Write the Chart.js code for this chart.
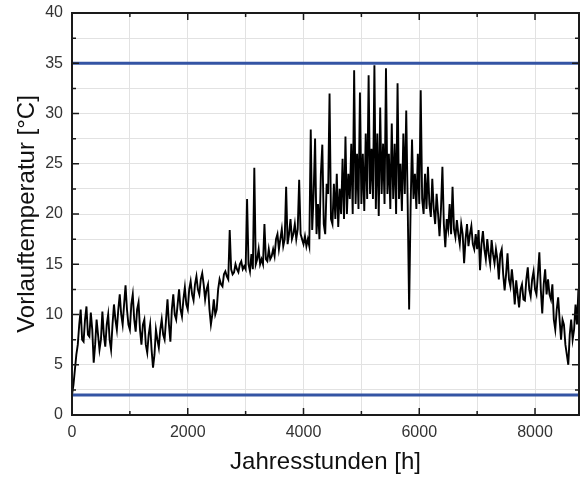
<!DOCTYPE html>
<html>
<head>
<meta charset="utf-8">
<script src="https://cdn.jsdelivr.net/npm/chart.js@4.4.1/dist/chart.umd.min.js"></script>
<style>
  html, body { margin: 0; padding: 0; background: #fff; }
  #chart { display: block; }
</style>
</head>
<body>
<canvas id="chart" width="585" height="479"></canvas>
<script>
// flow temperature over the year, every 25 h
const hourStep = 25;
const temps = [
  2.0, 3.0, 4.5, 6.0, 7.0, 9.0, 10.5, 7.5, 7.3, 9.5, 10.8, 8.0, 7.8, 10.2, 8.5, 5.2, 7.0, 9.5, 8.0, 6.5,
  7.5, 10.3, 8.0, 6.8, 9.0, 10.0, 7.5, 6.5, 9.0, 11.0, 9.5, 8.5, 10.5, 12.0, 10.0, 9.0, 11.0, 12.9, 10.5, 9.0,
  8.5, 11.0, 12.0, 9.5, 8.3, 10.5, 11.2, 8.5, 7.0, 9.0, 9.5, 7.0, 6.2, 8.0, 9.0, 6.5, 4.7, 6.0, 8.5, 7.5,
  6.7, 8.5, 9.5, 8.0, 7.5, 9.5, 11.5, 9.0, 7.3, 10.5, 12.0, 10.0, 9.5, 11.0, 12.5, 10.5, 9.8, 11.5, 12.7, 11.0,
  10.5, 12.5, 13.3, 12.0, 11.4, 13.0, 13.8, 12.5, 12.0, 13.5, 14.1, 13.0, 11.5, 12.5, 13.0, 10.5, 9.0, 10.0, 11.5, 10.0,
  10.5, 12.5, 13.5, 13.0, 12.8, 14.0, 14.3, 13.8, 13.5, 18.4, 14.5, 14.0, 14.2, 15.0, 14.5, 14.2, 15.0, 15.3, 14.5, 14.8,
  14.5, 21.5, 15.0, 14.3, 16.0, 14.5, 24.6, 15.0, 15.5, 16.5, 15.0, 15.5, 15.0, 19.0, 15.5, 15.3, 16.5, 15.5, 15.8, 16.5,
  15.8, 17.5, 18.0, 16.5, 17.5, 18.5, 16.8, 17.5, 22.7, 17.0, 18.0, 19.5, 17.5, 18.0, 19.0, 17.5, 18.5, 23.4, 18.0, 17.5,
  17.0, 17.8, 16.8, 17.5, 16.8, 28.4, 18.4, 22.0, 27.5, 18.0, 21.0, 17.5, 24.0, 26.9, 19.0, 18.0, 23.0, 22.0, 32.0, 19.5,
  19.0, 23.0, 19.5, 24.0, 18.7, 22.5, 20.0, 25.5, 19.5, 27.7, 20.0, 24.0, 21.5, 27.0, 20.0, 34.3, 21.0, 26.0, 20.5, 32.1,
  21.0, 26.0, 20.3, 28.0, 21.5, 33.8, 22.0, 26.5, 21.5, 34.8, 20.5, 28.0, 19.8, 30.6, 22.0, 27.0, 21.0, 34.5, 22.0, 26.0,
  20.5, 29.0, 21.5, 27.0, 20.0, 33.0, 21.5, 25.0, 20.3, 28.0, 22.0, 30.3, 21.0, 10.5, 20.5, 27.4, 21.5, 24.0, 20.5, 26.0,
  21.0, 32.3, 21.5, 20.0, 24.0, 20.5, 24.7, 21.0, 19.7, 23.5, 20.5, 19.0, 22.0, 20.0, 17.8, 20.5, 24.7, 19.0, 16.7, 19.5,
  18.5, 21.0, 18.0, 22.7, 18.5, 17.7, 19.4, 18.0, 17.0, 19.0, 18.0, 15.1, 17.5, 19.0, 16.8, 18.0, 18.8, 17.0, 16.5, 18.0,
  16.5, 18.4, 14.4, 17.0, 18.3, 16.5, 15.5, 17.5, 16.0, 15.0, 17.4, 16.0, 15.1, 16.5, 15.5, 13.5, 16.0, 16.5, 14.0, 12.4,
  14.0, 16.1, 13.5, 12.8, 14.5, 13.0, 11.0, 13.4, 12.0, 10.7, 12.5, 13.0, 11.5, 11.4, 13.5, 14.7, 12.5, 11.8, 13.5, 14.3,
  12.5, 12.0, 14.0, 16.2, 12.5, 10.1, 13.0, 14.5, 12.0, 13.5, 12.0, 11.5, 13.0, 9.5, 8.5, 10.5, 11.7, 9.5, 7.5, 9.5,
  9.0, 7.0, 6.0, 5.0, 8.0, 9.5, 7.5, 8.5, 11.0, 9.0, 12.5
];

// limits (blue lines)
const maxTemp = 35;
const minTemp = 2;
const yearHours = 8760;

// x ticks every 1000 h, labelled every 2000 h
const xTicks = [0, 1000, 2000, 3000, 4000, 5000, 6000, 7000, 8000];
const xLabelStep = 2000;
const yLabelStep = 5;

const tempPoints = temps.map((t, i) => ({ x: i * hourStep, y: t }));

const isMajor = (v, step) => Math.abs(v / step - Math.round(v / step)) < 1e-6;

// inward ticks + box frame, like the original plot
const framePlugin = {
  id: 'frame',
  afterDraw(chart) {
    const ctx = chart.ctx;
    const a = chart.chartArea;
    const xs = chart.scales.x;
    const ys = chart.scales.y;
    ctx.save();
    ctx.strokeStyle = '#1a1a1a';
    ctx.lineWidth = 1.5;
    xs.ticks.forEach(t => {
      const px = xs.getPixelForValue(t.value);
      const len = isMajor(t.value, xLabelStep) ? 7 : 4;
      ctx.beginPath();
      ctx.moveTo(px, a.bottom); ctx.lineTo(px, a.bottom - len);
      ctx.moveTo(px, a.top); ctx.lineTo(px, a.top + len);
      ctx.stroke();
    });
    ys.ticks.forEach(t => {
      const py = ys.getPixelForValue(t.value);
      const len = isMajor(t.value, yLabelStep) ? 7 : 4;
      ctx.beginPath();
      ctx.moveTo(a.left, py); ctx.lineTo(a.left + len, py);
      ctx.moveTo(a.right, py); ctx.lineTo(a.right - len, py);
      ctx.stroke();
    });
    ctx.lineWidth = 2;
    ctx.strokeRect(a.left, a.top, a.right - a.left, a.bottom - a.top);
    ctx.restore();
  }
};

new Chart(document.getElementById('chart').getContext('2d'), {
  type: 'line',
  data: {
    datasets: [
      {
        label: 'Vorlauftemperatur',
        data: tempPoints,
        borderColor: '#000000',
        borderWidth: 1.9,
        pointRadius: 0,
        tension: 0
      },
      {
        label: 'max',
        data: [{ x: 0, y: maxTemp }, { x: yearHours, y: maxTemp }],
        borderColor: '#3454a4',
        borderWidth: 3,
        pointRadius: 0
      },
      {
        label: 'min',
        data: [{ x: 0, y: minTemp }, { x: yearHours, y: minTemp }],
        borderColor: '#3454a4',
        borderWidth: 3,
        pointRadius: 0
      }
    ]
  },
  options: {
    responsive: false,
    animation: false,
    layout: { padding: { top: 13, right: 6, left: 0, bottom: 0 } },
    plugins: { legend: { display: false }, tooltip: { enabled: false } },
    scales: {
      x: {
        type: 'linear',
        min: 0,
        max: yearHours,
        afterBuildTicks(scale) { scale.ticks = xTicks.map(v => ({ value: v })); },
        afterFit(scale) {
          scale.height = 64;
          scale.paddingLeft = 0;
          scale.paddingRight = 0;
        },
        grid: { color: '#e2e2e2', lineWidth: 1, drawTicks: false },
        border: { display: false },
        ticks: {
          padding: 8,
          maxRotation: 0,
          autoSkip: false,
          color: '#333333',
          font: { family: 'Liberation Sans, Arial, sans-serif', size: 16 },
          callback: v => isMajor(v, xLabelStep) ? String(Math.round(v)) : ''
        },
        title: {
          display: true,
          text: 'Jahresstunden [h]',
          color: '#111111',
          padding: { top: 0, bottom: 2 },
          font: { family: 'Liberation Sans, Arial, sans-serif', size: 24, lineHeight: 1.2 }
        }
      },
      y: {
        min: 0,
        max: 40,
        afterFit(scale) {
          scale.width = 72;
          scale.paddingTop = 0;
          scale.paddingBottom = 0;
        },
        grid: { color: '#e2e2e2', lineWidth: 1, drawTicks: false },
        border: { display: false },
        ticks: {
          stepSize: 2.5,
          padding: 9,
          autoSkip: false,
          color: '#333333',
          font: { family: 'Liberation Sans, Arial, sans-serif', size: 16 },
          callback: v => isMajor(v, yLabelStep) ? String(Math.round(v)) : ''
        },
        title: {
          display: true,
          text: 'Vorlauftemperatur [°C]',
          color: '#111111',
          padding: { top: 13, bottom: 0 },
          font: { family: 'Liberation Sans, Arial, sans-serif', size: 24, lineHeight: 1.2 }
        }
      }
    }
  },
  plugins: [framePlugin]
});
</script>
</body>
</html>
